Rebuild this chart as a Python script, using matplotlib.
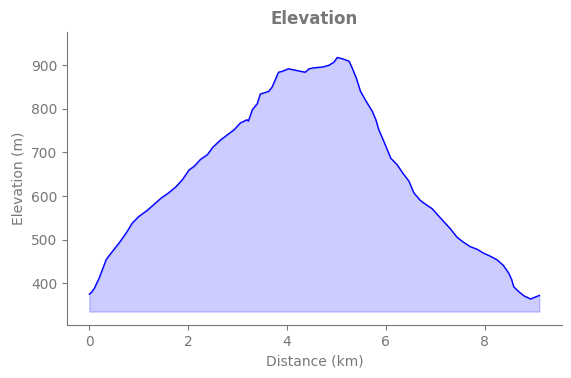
import numpy as np
import matplotlib.pyplot as plt

distance_km = [0.00, 0.05, 0.10, 0.20, 0.34, 0.44, 0.60, 0.75, 0.87, 1.00, 1.18, 1.30,
               1.45, 1.60, 1.75, 1.88, 2.02, 2.12, 2.25, 2.39, 2.50, 2.66, 2.80, 2.93,
               3.06, 3.12, 3.19, 3.22, 3.30, 3.40, 3.46, 3.63, 3.70, 3.83, 3.90, 4.03,
               4.20, 4.37, 4.45, 4.54, 4.72, 4.85, 4.95, 5.02, 5.15, 5.26, 5.32, 5.40,
               5.49, 5.60, 5.73, 5.80, 5.86, 6.00, 6.10, 6.23, 6.35, 6.47, 6.57, 6.70,
               6.77, 6.94, 7.05, 7.17, 7.30, 7.44, 7.55, 7.71, 7.85, 7.98, 8.10, 8.25,
               8.38, 8.49, 8.55, 8.59, 8.70, 8.80, 8.93, 9.02, 9.11]
elevation_m = [375, 380, 388, 412, 454, 469, 492, 516, 538, 553, 568, 580,
               595, 607, 621, 637, 660, 668, 684, 695, 712, 729, 741, 752,
               768, 771, 775, 772, 798, 812, 834, 840, 850, 884, 886, 892,
               888, 884, 892, 894, 896, 900, 907, 918, 914, 909, 894, 872,
               840, 818, 794, 775, 752, 715, 687, 672, 652, 634, 607, 590,
               584, 571, 557, 542, 526, 506, 496, 484, 478, 469, 463, 454,
               441, 423, 408, 392, 380, 371, 364, 368, 372]
fill_base = 335

grey = '#777777'
fig = plt.figure(figsize=(5.71, 3.78), dpi=100)
ax = fig.add_axes([0.117, 0.14, 0.867, 0.775])
ax.plot(distance_km, elevation_m, color='blue', lw=1)
ax.fill_between(distance_km, elevation_m, fill_base, color='blue', alpha=0.2)
ax.set_ylim(304, 976)
ax.set_title('Elevation', color=grey, fontweight='bold', fontsize=12)
ax.set_xlabel('Distance (km)', color=grey)
ax.set_ylabel('Elevation (m)', color=grey)
ax.spines['top'].set_visible(False)
ax.spines['right'].set_visible(False)
for s in ['left', 'bottom']:
    ax.spines[s].set_color(grey)
ax.tick_params(colors=grey)
fig.savefig('out.png')
